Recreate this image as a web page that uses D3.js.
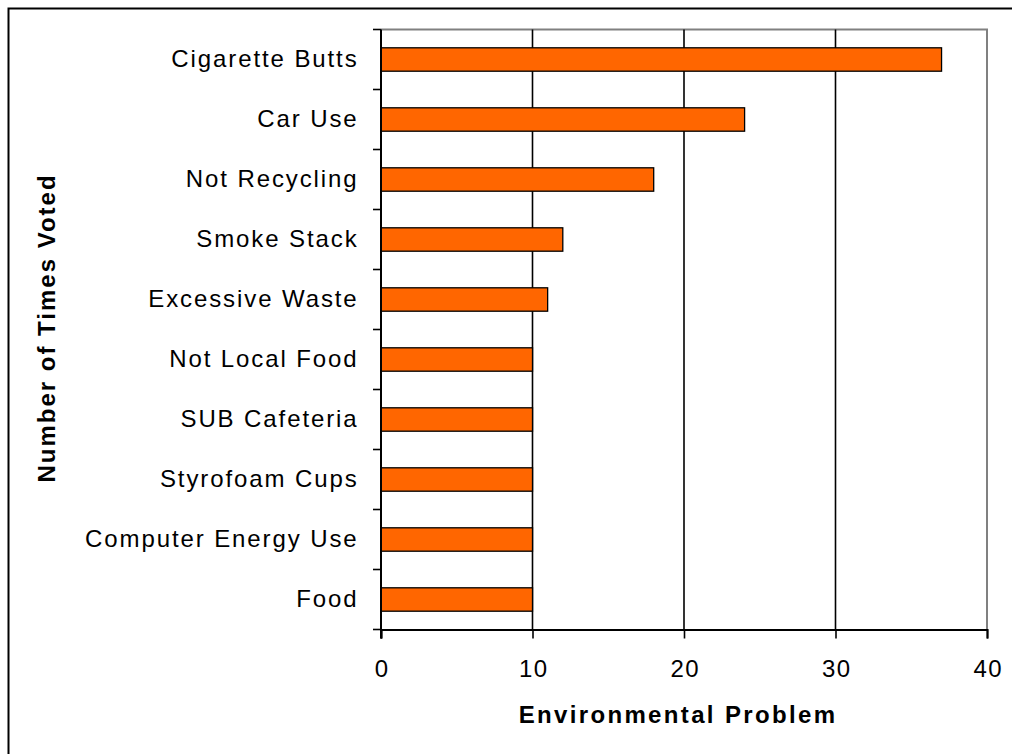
<!DOCTYPE html>
<html>
<head>
<meta charset="utf-8">
<script src="https://cdn.jsdelivr.net/npm/d3@7/dist/d3.min.js"></script>
<style>
  html, body { margin: 0; padding: 0; background: #fff; }
  svg { display: block; }
  text { font-family: "Liberation Sans", Arial, sans-serif; fill: #000; }
</style>
</head>
<body>
<svg id="chart" width="1012" height="754"></svg>
<script>
// Votes per environmental problem, top to bottom
const categories = [
  "Cigarette Butts", "Car Use", "Not Recycling", "Smoke Stack", "Excessive Waste",
  "Not Local Food", "SUB Cafeteria", "Styrofoam Cups", "Computer Energy Use", "Food"
];
const votes = [37, 24, 18, 12, 11, 10, 10, 10, 10, 10];
const xTicks = [0, 10, 20, 30, 40];
const xTitle = "Environmental Problem";
const yTitle = "Number of Times Voted";

const svg = d3.select("#chart");
const plotLeft = 381, plotRight = 987, plotTop = 29.5, plotBottom = 629.5;

// Outer frame
svg.append("rect")
  .attr("x", 8.5).attr("y", 8.5)
  .attr("width", 1030).attr("height", 780)
  .attr("fill", "none").attr("stroke", "#000").attr("stroke-width", 2);

const x = d3.scaleLinear().domain([0, 40]).range([plotLeft, plotRight]);
const y = d3.scaleBand().domain(categories).range([plotTop, plotBottom]).paddingInner(0.61).paddingOuter(0.305);
const yEdges = d3.scaleBand().domain(categories).range([plotTop, plotBottom]);

// Plot frame: grey top and right edges
svg.append("path")
  .attr("d", `M${plotLeft},${plotTop}H${plotRight}V${plotBottom}`)
  .attr("fill", "none").attr("stroke", "#808080").attr("stroke-width", 2);

// Vertical gridlines
svg.append("g").selectAll("line")
  .data(xTicks.filter(t => t > 0 && t < 40))
  .join("line")
  .attr("x1", d => x(d)).attr("x2", d => x(d))
  .attr("y1", plotTop).attr("y2", plotBottom)
  .attr("stroke", "#000").attr("stroke-width", 1.6);

// Bars
svg.append("g").selectAll("rect")
  .data(categories.map((c, i) => ({ c, v: votes[i] })))
  .join("rect")
  .attr("x", x(0))
  .attr("y", d => y(d.c))
  .attr("width", d => x(d.v) - x(0))
  .attr("height", y.bandwidth())
  .attr("fill", "#FF6600")
  .attr("stroke", "#000").attr("stroke-width", 1.3);

// Bottom axis
const xAxis = d3.axisBottom(x).tickValues(xTicks).tickSize(9);
const gx = svg.append("g").attr("transform", `translate(0,${plotBottom})`).call(xAxis);
gx.select(".domain").attr("stroke", "#000").attr("stroke-width", 2);
gx.selectAll(".tick line").attr("stroke", "#000").attr("stroke-width", 1.6);
gx.selectAll(".tick text")
  .attr("font-size", 24)
  .attr("font-family", "Liberation Sans, Arial, sans-serif")
  .attr("letter-spacing", 1.5)
  .attr("dx", 0.75)
  .attr("y", 47.8).attr("dy", null);

// Left axis: ticks fall on category boundaries
const gy = svg.append("g");
gy.append("line")
  .attr("x1", plotLeft).attr("x2", plotLeft).attr("y1", plotTop).attr("y2", plotBottom + 9)
  .attr("stroke", "#000").attr("stroke-width", 2);
const edges = categories.map(c => yEdges(c)).concat([plotBottom]);
gy.selectAll("line.edge")
  .data(edges)
  .join("line").attr("class", "edge")
  .attr("x1", plotLeft - 8).attr("x2", plotLeft)
  .attr("y1", d => d).attr("y2", d => d)
  .attr("stroke", "#000").attr("stroke-width", 1.6);
gy.selectAll("text")
  .data(categories)
  .join("text")
  .attr("x", 358.6)
  .attr("y", d => yEdges(d) + yEdges.bandwidth() / 2)
  .attr("dy", "0.33em")
  .attr("text-anchor", "end")
  .attr("font-size", 24)
  .attr("letter-spacing", 1.9)
  .text(d => d);

// Axis titles
svg.append("text")
  .attr("x", 678).attr("y", 723.3)
  .attr("text-anchor", "middle")
  .attr("font-size", 24).attr("font-weight", "bold")
  .attr("letter-spacing", 2.35)
  .text(xTitle);

svg.append("text")
  .attr("transform", `translate(55,${(plotTop + plotBottom) / 2 - 1.5}) rotate(-90)`)
  .attr("text-anchor", "middle")
  .attr("font-size", 24).attr("font-weight", "bold")
  .attr("letter-spacing", 2)
  .text(yTitle);
</script>
</body>
</html>
